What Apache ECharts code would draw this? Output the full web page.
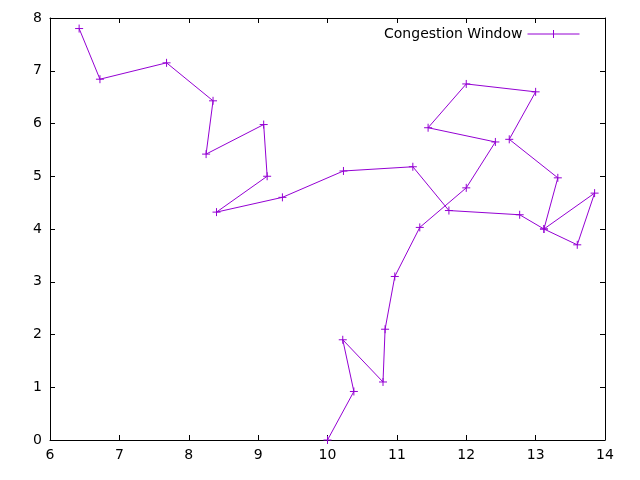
<!DOCTYPE html>
<html><head><meta charset="utf-8">
<script src="https://cdn.jsdelivr.net/npm/echarts@6/dist/echarts.min.js"></script>
<style>html,body{margin:0;padding:0;background:#fff}#c{width:640px;height:480px}</style>
</head><body><div id="c"></div>
<script>
const xs=[10.0,10.38,10.22,10.8,10.83,10.97,11.33,12.0,12.42,11.45,12.0,13.0,12.62,13.32,13.12,13.85,13.6,13.12,12.77,11.75,11.23,10.23,9.35,8.4,9.13,9.08,8.25,8.35,7.68,6.72,6.42];
const ys=[0,0.92,1.9,1.1,2.1,3.1,4.03,4.78,5.65,5.92,6.75,6.6,5.7,4.97,4.0,4.68,3.7,4.0,4.27,4.35,5.18,5.1,4.6,4.32,5.0,5.98,5.42,6.43,7.15,6.84,7.8];
const seriesName='Congestion Window';
const data=xs.map((x,i)=>[x,ys[i]]);
const plus='path://M0,5L10,5M5,0L5,10';
const c=echarts.init(document.getElementById('c'));
const ax={type:'value',axisLine:{show:true,onZero:false,lineStyle:{color:'#000'}},axisTick:{inside:true,lineStyle:{color:'#000'}},
 axisLabel:{color:'#000',fontSize:14,fontFamily:'DejaVu Sans'},splitLine:{show:false}};
const ax2=Object.assign({},ax,{axisLabel:{show:false}});
c.setOption({animation:false,
 grid:{left:50,right:35,top:18,bottom:40},
 legend:{top:22,right:55,itemWidth:52,itemHeight:8,itemGap:10,textStyle:{fontSize:14,fontFamily:'DejaVu Sans',color:'#000'},align:'right',
   data:[{name:seriesName,icon:'path://M0,5L52,5M26,1L26,9',itemStyle:{borderWidth:1}}]},
 xAxis:[Object.assign({},ax,{min:6,max:14,interval:1}),Object.assign({},ax2,{position:'top',min:6,max:14,interval:1})],
 yAxis:[Object.assign({},ax,{min:0,max:8,interval:1}),Object.assign({},ax2,{position:'right',min:0,max:8,interval:1})],
 series:[{name:seriesName,type:'line',data:data,symbol:plus,symbolSize:8,showAllSymbol:true,
   lineStyle:{color:'#9400d3',width:1},itemStyle:{color:'#9400d3',borderColor:'#9400d3',borderWidth:1}}]
});
</script></body></html>
